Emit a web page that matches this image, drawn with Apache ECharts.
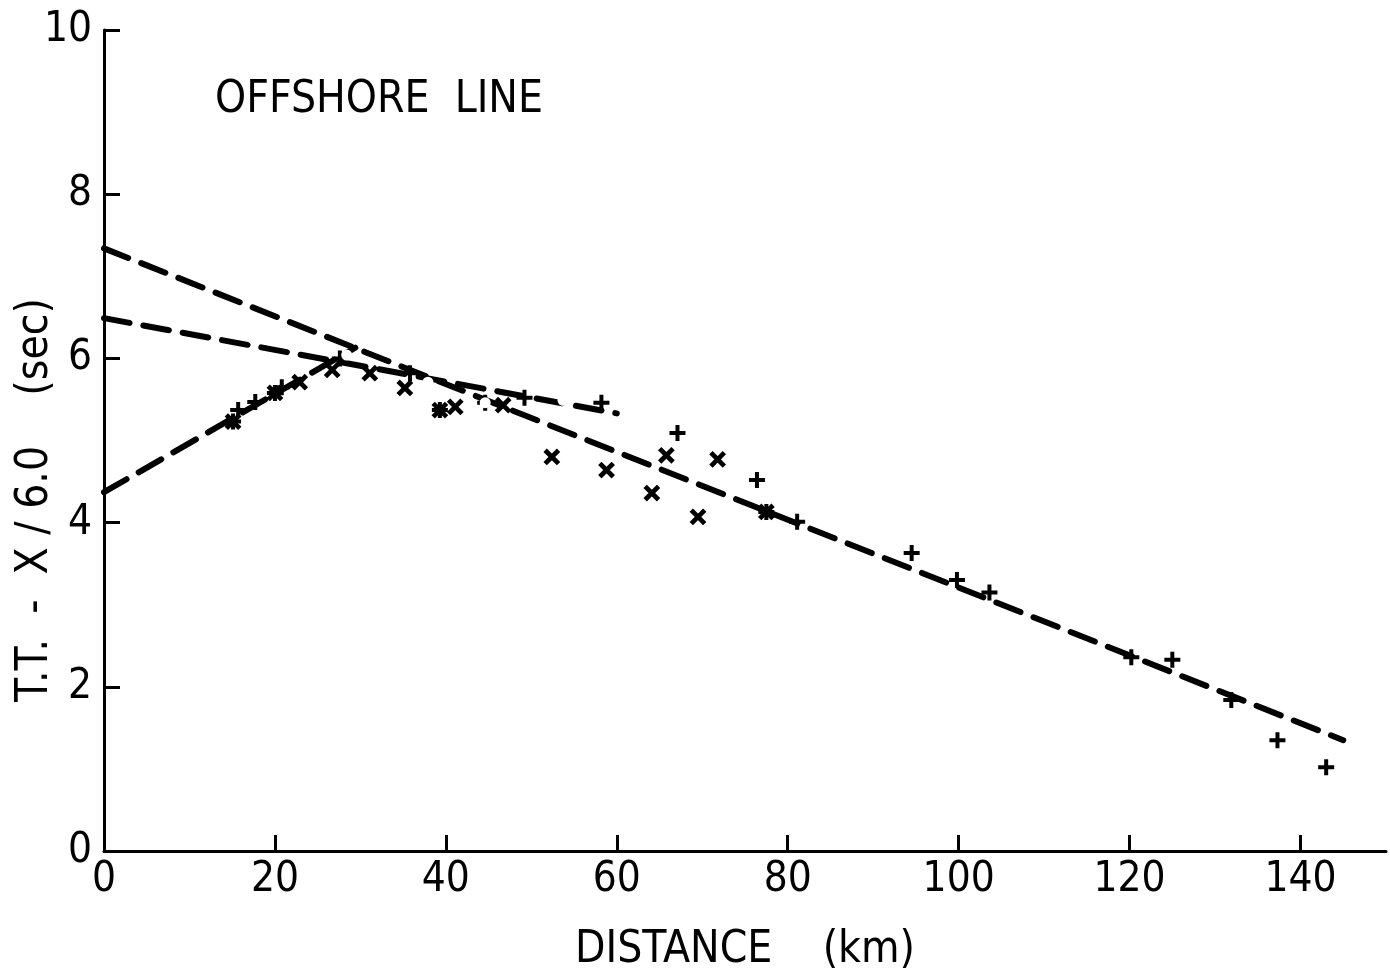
<!DOCTYPE html>
<html>
<head>
<meta charset="utf-8">
<script src="https://cdn.jsdelivr.net/npm/echarts@6/dist/echarts.min.js"></script>
<style>
  html, body { margin: 0; padding: 0; background: #fff; }
  #chart { width: 1390px; height: 970px; }
</style>
</head>
<body>
<div id="chart"></div>
<script>
// travel time reduced with 6.0 km/s, offshore line
const xTicks = [0, 20, 40, 60, 80, 100, 120, 140];
const yTicks = [0, 2, 4, 6, 8, 10];

// observed picks, [distance km, reduced time s]
const crossPicks = [
  [15.1, 5.23], [20.0, 5.58], [22.9, 5.71], [26.7, 5.86], [31.1, 5.82],
  [35.2, 5.64], [39.3, 5.37], [41.1, 5.41], [46.7, 5.43], [52.4, 4.80],
  [58.8, 4.64], [64.1, 4.36], [65.8, 4.82], [69.5, 4.07], [71.8, 4.77],
  [77.5, 4.13]
];
const plusPicks = [
  [15.1, 5.23], [15.7, 5.37], [17.7, 5.47], [20.0, 5.58], [20.8, 5.65],
  [27.6, 6.00], [35.8, 5.82], [39.3, 5.37], [44.6, 5.46], [49.2, 5.52],
  [58.2, 5.46], [67.1, 5.09], [76.4, 4.52], [77.5, 4.13], [81.1, 4.01],
  [94.5, 3.63], [99.8, 3.30], [103.6, 3.15], [120.2, 2.36], [125.0, 2.33],
  [131.9, 1.84], [137.3, 1.35], [143.0, 1.02]
];
const openPicks = [[28.4, 6.04], [37.9, 5.71], [53.7, 5.49], [44.6, 5.46]];

// fitted branches
const branchA = [[0, 7.34], [145, 1.35]];
const branchB = [[0, 6.49], [60, 5.33]];
const branchC = [[0, 4.37], [29.4, 6.13]];

const FONT = '"DejaVu Sans Condensed", "DejaVu Sans", sans-serif';
const plusPath = 'path://M0,7.5 H20 V12.5 H0 Z M7.5,0 H12.5 V20 H7.5 Z';

const dashed = {
  color: '#000',
  width: 6,
  type: [26, 14],
  cap: 'round'
};

function branch(data) {
  return {
    type: 'line',
    data: data,
    showSymbol: false,
    silent: true,
    lineStyle: dashed,
    z: 2
  };
}

const chart = echarts.init(document.getElementById('chart'));
chart.setOption({
  animation: false,
  backgroundColor: '#fff',
  title: {
    text: 'OFFSHORE  LINE',
    left: 210,
    top: 74,
    textStyle: { fontFamily: FONT, fontSize: 44, fontWeight: 'normal', color: '#000' }
  },
  grid: { left: 104, right: 4, top: 30, bottom: 119, outerBoundsMode: 'none', containLabel: false },
  xAxis: {
    type: 'value',
    min: 0,
    max: 150,
    interval: 20,
    name: 'DISTANCE    (km)',
    nameLocation: 'middle',
    nameGap: 78,
    nameTextStyle: { fontFamily: FONT, fontSize: 44, color: '#000' },
    axisLine: { show: true, lineStyle: { color: '#000', width: 3 } },
    axisTick: { show: true, inside: true, length: 16, lineStyle: { color: '#000', width: 3 }, customValues: xTicks },
    axisLabel: { fontFamily: FONT, fontSize: 42, color: '#000', margin: 8, customValues: xTicks },
    splitLine: { show: false }
  },
  yAxis: {
    type: 'value',
    min: 0,
    max: 10,
    interval: 2,
    axisLine: { show: true, lineStyle: { color: '#000', width: 3 } },
    axisTick: { show: true, inside: true, length: 16, lineStyle: { color: '#000', width: 3 }, customValues: yTicks },
    axisLabel: { fontFamily: FONT, fontSize: 42, color: '#000', margin: 12, customValues: yTicks },
    splitLine: { show: false }
  },
  graphic: [{
    type: 'text',
    x: 36,
    y: 500,
    rotation: Math.PI / 2,
    style: {
      text: 'T.T.  -  X / 6.0    (sec)',
      x: 0,
      y: 0,
      align: 'center',
      verticalAlign: 'middle',
      font: '44px ' + FONT,
      fill: '#000'
    }
  }],
  series: [
    branch(branchA),
    branch(branchB),
    branch(branchC),
    {
      type: 'scatter',
      data: crossPicks,
      symbol: plusPath,
      symbolRotate: 45,
      symbolSize: 19,
      itemStyle: { color: '#000', opacity: 1 },
      z: 3
    },
    {
      type: 'scatter',
      data: plusPicks,
      symbol: plusPath,
      symbolSize: 16,
      itemStyle: { color: '#000', opacity: 1 },
      z: 3
    },
    {
      type: 'scatter',
      data: openPicks,
      symbol: 'emptyCircle',
      symbolSize: 9,
      itemStyle: { color: '#fff', borderColor: '#000', borderWidth: 3, opacity: 1 },
      z: 3
    }
  ]
});
</script>
</body>
</html>
